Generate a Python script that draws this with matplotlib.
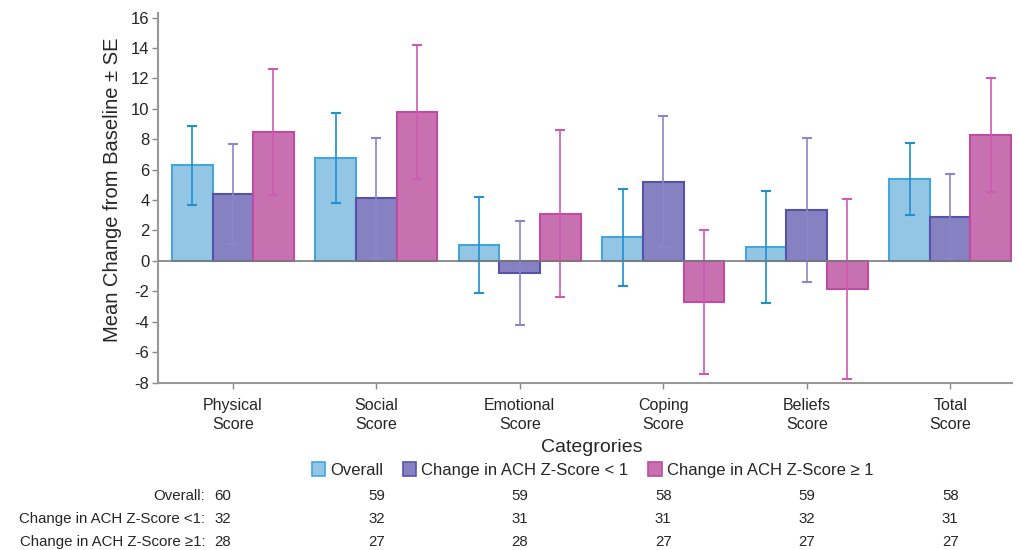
import matplotlib.pyplot as plt
import numpy as np
from matplotlib.patches import Patch

plt.rcParams['font.family'] = ['Liberation Sans', 'DejaVu Sans']
plt.rcParams['axes.unicode_minus'] = False

categories = ['Physical\nScore', 'Social\nScore', 'Emotional\nScore',
              'Coping\nScore', 'Beliefs\nScore', 'Total\nScore']
series = ['Overall', 'Change in ACH Z-Score < 1', 'Change in ACH Z-Score \u2265 1']

overall_mean = [6.3, 6.75, 1.05, 1.55, 0.92, 5.4]
overall_se = [2.6, 2.95, 3.15, 3.2, 3.7, 2.35]
low_mean = [4.4, 4.15, -0.8, 5.2, 3.35, 2.9]
low_se = [3.3, 3.95, 3.4, 4.3, 4.75, 2.8]
high_mean = [8.45, 9.8, 3.1, -2.7, -1.85, 8.3]
high_se = [4.15, 4.4, 5.5, 4.75, 5.9, 3.75]

row_labels = ['Overall:', 'Change in ACH Z-Score <1:', 'Change in ACH Z-Score \u22651:']
n_overall = [60, 59, 59, 58, 59, 58]
n_low = [32, 32, 31, 31, 32, 31]
n_high = [28, 27, 28, 27, 27, 27]

fills = ['#93c6e4', '#8682c2', '#c871b1']
edges = ['#45a6db', '#5652aa', '#c04ba1']
errc = ['#1f8fd0', '#8c85c9', '#d05ab2']
txt = '#262626'

fig = plt.figure(figsize=(10.18, 5.5), dpi=100)
ax = fig.add_axes([0.155, 0.3044, 0.839, 0.672])

x = np.arange(len(categories))
w = 0.283
means = [overall_mean, low_mean, high_mean]
ses = [overall_se, low_se, high_se]
for k in range(3):
    ax.bar(x + (k - 1) * w, means[k], w, color=fills[k], edgecolor=edges[k],
           linewidth=1.5, label=series[k], zorder=2)
    ax.errorbar(x + (k - 1) * w, means[k], yerr=ses[k], fmt='none',
                ecolor=errc[k], elinewidth=1.2, capsize=3.5, capthick=1.5, zorder=3)

ax.axhline(0, color='#7a7a7a', lw=1.2, zorder=4)

ax.set_xlim(-0.523, 5.43)
ax.set_ylim(-8, 16.3)
ax.set_yticks(np.arange(-8, 17, 2))
ax.set_xticks(x)
ax.set_xticklabels(categories, fontsize=11.5, linespacing=1.35, color=txt)
ax.tick_params(axis='y', labelsize=12, labelcolor=txt, length=4, width=1,
               color='#888888', pad=2)
ax.tick_params(axis='x', length=4, width=1, color='#888888', pad=7)
for s in ['top', 'right']:
    ax.spines[s].set_visible(False)
for s in ['left', 'bottom']:
    ax.spines[s].set_color('#999999')
    ax.spines[s].set_linewidth(1.5)

fig.text(0.111, 0.655, 'Mean Change from Baseline \u00b1 SE', rotation=90,
         ha='center', va='center', fontsize=14.5, color=txt)
fig.text(0.581, 1 - 448 / 550, 'Categrories', ha='center', va='center',
         fontsize=14, color=txt)

handles = [Patch(facecolor=fills[k], edgecolor=edges[k], linewidth=1.2) for k in range(3)]
fig.legend(handles, series, loc='center', bbox_to_anchor=(0.582, 1 - 470 / 550),
           ncol=3, frameon=False, fontsize=12, handlelength=0.8, handleheight=0.9,
           handletextpad=0.3, columnspacing=1.2, labelcolor=txt)

# sample sizes under each category
rows = [n_overall, n_low, n_high]
row_y = [496, 519, 542]
for r in range(3):
    yf = 1 - row_y[r] / 550
    fig.text(0.2015, yf, row_labels[r], ha='right', va='center', fontsize=10.8, color=txt)
    for i, v in enumerate(rows[r]):
        xd = i - 0.07 if i == 0 else i
        xf = fig.transFigure.inverted().transform(ax.transData.transform((xd, 0)))[0]
        fig.text(xf, yf, str(v), ha='center', va='center', fontsize=10.8, color=txt)

fig.savefig('out.png', dpi=100)
